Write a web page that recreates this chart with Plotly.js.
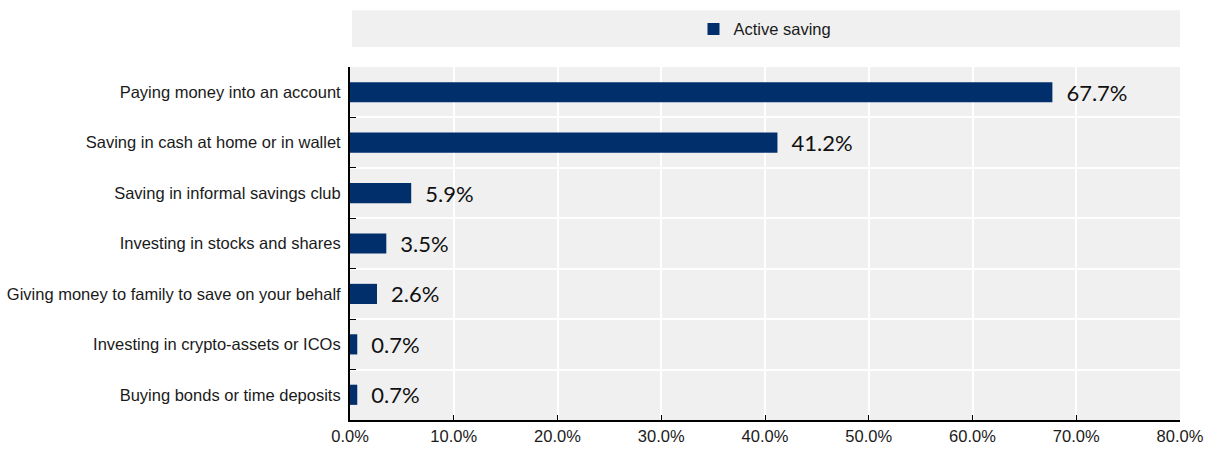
<!DOCTYPE html>
<html>
<head>
<meta charset="utf-8">
<script src="https://cdn.plot.ly/plotly-3.0.1.min.js"></script>
<style>html,body{margin:0;padding:0;background:#fff;}#chart{width:1210px;height:461px;}</style>
</head>
<body>
<div id="chart"></div>
<script>
const categories = [
  "Paying money into an account",
  "Saving in cash at home or in wallet",
  "Saving in informal savings club",
  "Investing in stocks and shares",
  "Giving money to family to save on your behalf",
  "Investing in crypto-assets or ICOs",
  "Buying bonds or time deposits"
];
const activeSaving = [67.7, 41.2, 5.9, 3.5, 2.6, 0.7, 0.7];
const seriesName = "Active saving";
const xTicks = [0, 10, 20, 30, 40, 50, 60, 70, 80];

const trace = {
  type: "bar",
  orientation: "h",
  name: seriesName,
  y: categories,
  x: activeSaving,
  width: 0.4,
  marker: {color: "#002F6C"},
  text: activeSaving.map(v => "\u2002" + v.toFixed(1) + "%"),
  texttemplate: "%{text}",
  textposition: "outside",
  constraintext: "none",
  cliponaxis: false,
  textfont: {family: "Lato, 'Open Sans', sans-serif", size: 22, color: "#111"},
  showlegend: true,
  hoverinfo: "skip"
};

const layout = {
  width: 1210, height: 461,
  margin: {l: 350, r: 30, t: 65, b: 41},
  paper_bgcolor: "#ffffff",
  plot_bgcolor: "#f0f0f0",
  font: {family: "'Liberation Sans', Arial, sans-serif", size: 16.5, color: "#1a1a1a"},
  bargap: 0.6,
  xaxis: {
    range: [0, 80],
    tickvals: xTicks,
    ticktext: xTicks.map(v => v.toFixed(1) + "%"),
    showgrid: true, gridcolor: "#ffffff", gridwidth: 2,
    zeroline: false,
    showline: true, linecolor: "#000", linewidth: 2,
    ticks: "inside", ticklen: 5, tickcolor: "#000", tickwidth: 1,
    tickfont: {size: 16.5, color: "#1a1a1a"},
    fixedrange: true
  },
  yaxis: {
    type: "category",
    autorange: "reversed",
    tickson: "boundaries",
    showgrid: true, gridcolor: "#ffffff", gridwidth: 2,
    showline: true, linecolor: "#000", linewidth: 2,
    ticks: "inside", ticklen: 6, tickcolor: "#000", tickwidth: 1,
    ticklabelstandoff: 4,
    tickfont: {size: 16.5, color: "#1a1a1a"},
    fixedrange: true
  },
  shapes: [{
    type: "rect", xref: "paper", yref: "paper",
    x0: 2/830, x1: 1, y0: (420-45)/355, y1: (420-8)/355,
    fillcolor: "#f0f0f0", line: {width: 0}, layer: "below"
  }],
  showlegend: true,
  legend: {
    orientation: "h",
    x: 0.5, xanchor: "center",
    y: (420-27)/355, yanchor: "middle",
    bgcolor: "rgba(0,0,0,0)",
    font: {size: 16.5, color: "#1a1a1a"}
  }
};

Plotly.newPlot("chart", [trace], layout, {staticPlot: true, displayModeBar: false});
</script>
</body>
</html>
